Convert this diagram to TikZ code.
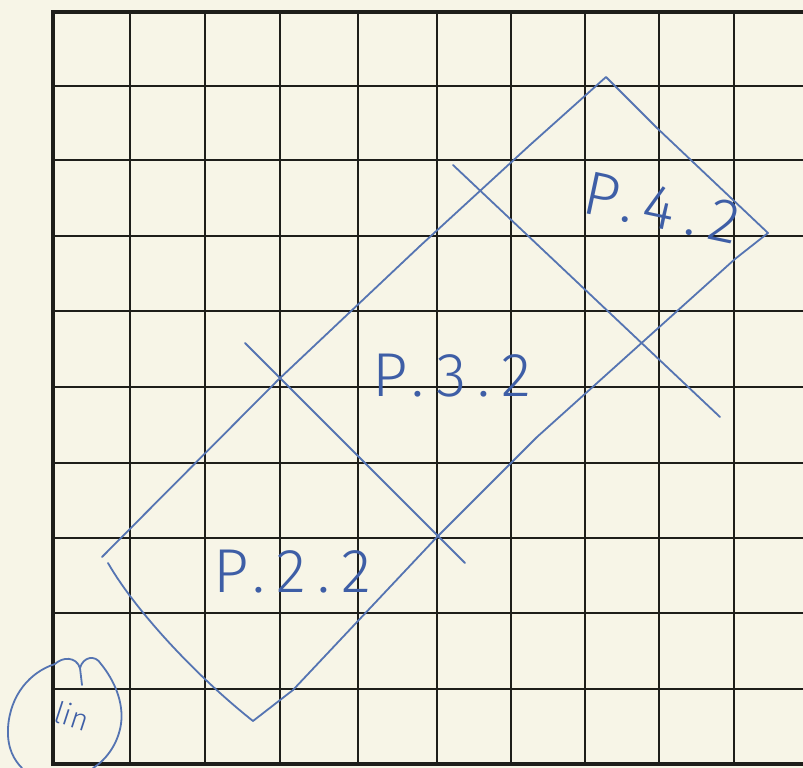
\documentclass[tikz,border=0pt]{standalone}
\usepackage{fontspec}
\newfontfamily\hand{Fira Sans Light}
\definecolor{paper}{HTML}{F7F5E7}
\definecolor{gridc}{HTML}{1E1E1A}
\definecolor{inkline}{HTML}{5574B2}
\definecolor{inktext}{HTML}{3E5EA6}
\tikzset{
  gridline/.style={draw=gridc, line width=1.6pt},
  frameline/.style={draw=gridc, line width=3.6pt},
  ink/.style={draw=inkline, line width=1.8pt, line cap=round, line join=round},
  lbl/.style={text=inktext, font=\hand\fontsize{62}{62}\selectfont\addfontfeature{LetterSpace=18}, inner sep=0pt},
  sig/.style={text=inktext, font=\hand\fontsize{30}{30}\selectfont, inner sep=0pt}
}
\begin{document}
\begin{tikzpicture}[x=1pt, y=-1pt]
  \fill[paper] (0,0) rectangle (803,768);
  \useasboundingbox (0,0) rectangle (803,768);
  % grid
  \foreach \gx in {130,205,280,358,437,511,585,659,734}
    \draw[gridline] (\gx,12) -- (\gx,764);
  \foreach \gy in {86,160,236,311,387,463,538,613,689}
    \draw[gridline] (53,\gy) -- (803,\gy);
  \draw[frameline] (803,12) -- (53,12) -- (53,764) -- (803,764);
  % rotated rectangle
  \coordinate (tl) at (102,557);
  \coordinate (apex) at (606,77);
  \coordinate (rc) at (768,233);
  \coordinate (bc) at (253,721);
  \coordinate (ls) at (108,563);
  \draw[ink] (tl) -- (278,380) -- (420,246) -- (530,145) -- (apex) -- (657,128) -- (rc)
     -- (735,259) -- (537,437) -- (437,537) -- (293,690) -- (bc);
  \draw[ink] (ls) .. controls (135,610) and (195,675) .. (bc);
  % dividers
  \coordinate (d1a) at (245,343);
  \coordinate (d1b) at (465,563);
  \coordinate (d2a) at (453,165);
  \coordinate (d2b) at (720,417);
  \draw[ink] (d1a) -- (d1b);
  \draw[ink] (d2a) -- (d2b);
  % labels
  \node[lbl, rotate=-12] (p42) at (662,208) {P.4.2};
  \node[lbl] (p32) at (452,376) {P.3.2};
  \node[lbl] (p22) at (292,572) {P.2.2};
  % signature
  \draw[ink] (55,664) .. controls (30,672) and (10,695) .. (8,728)
     .. controls (7,748) and (14,760) .. (22,768);
  \draw[ink] (55,664) .. controls (62,657) and (76,656) .. (80,668)
     .. controls (83,657) and (95,654) .. (101,664)
     .. controls (114,680) and (124,702) .. (121,724)
     .. controls (118,744) and (106,760) .. (93,768);
  \draw[ink] (80,668) -- (82,685);
  \node[sig, rotate=-18] (sg) at (72,716) {lin};
\end{tikzpicture}
\end{document}
